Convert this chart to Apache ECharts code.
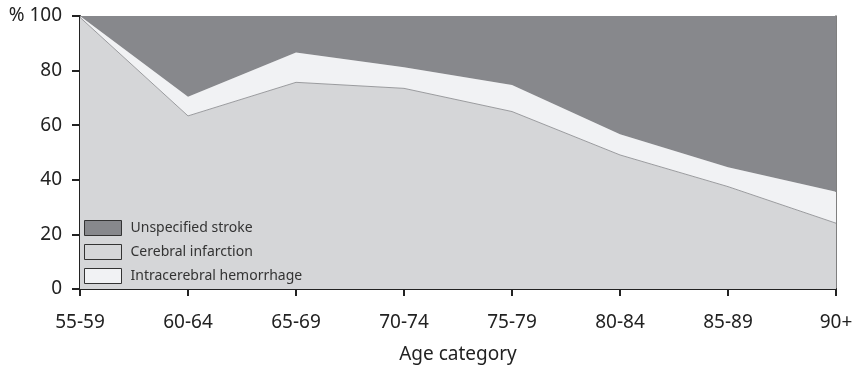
<!DOCTYPE html>
<html><head><meta charset="utf-8">
<script src="https://cdn.jsdelivr.net/npm/echarts@6/dist/echarts.min.js"></script>
<style>html,body{margin:0;padding:0;background:#fff}#c{width:854px;height:367px}</style>
</head><body><div id="c"></div>
<script>
const categories = ['55-59','60-64','65-69','70-74','75-79','80-84','85-89','90+'];
const cerebralInfarction = [99.5, 63.4, 75.7, 73.5, 65.0, 49.1, 37.5, 24.1];
const intracerebralHemorrhage = [0.5, 7.0, 10.9, 7.7, 9.7, 7.6, 7.1, 11.5];
const unspecifiedStroke = [0, 29.6, 13.4, 18.8, 25.3, 43.3, 55.4, 64.4];
const yTicks = [0, 20, 40, 60, 80, 100];

const FONT = '"Noto Sans","Open Sans",sans-serif';
const cDark = '#87888c', cMid = '#d5d6d8', cLight = '#f1f2f4';

const chart = echarts.init(document.getElementById('c'));
chart.setOption({
  animation: false,
  grid: {left: 80, right: 18, top: 16, bottom: 78, containLabel: false, outerBoundsMode: 'none'},
  legend: {
    orient: 'vertical', left: 84, top: 220, padding: 0,
    itemWidth: 37, itemHeight: 15, itemGap: 8,
    textStyle: {fontFamily: FONT, fontSize: 14, color: '#333', padding: [0, 0, 0, 4]},
    data: [
      {name: 'Unspecified stroke', icon: 'rect', itemStyle: {color: cDark, borderColor: '#333', borderWidth: 1}},
      {name: 'Cerebral infarction', icon: 'rect', itemStyle: {color: cMid, borderColor: '#333', borderWidth: 1}},
      {name: 'Intracerebral hemorrhage', icon: 'rect', itemStyle: {color: cLight, borderColor: '#333', borderWidth: 1}}
    ]
  },
  xAxis: {
    type: 'category', data: categories, boundaryGap: false,
    name: 'Age category', nameLocation: 'middle', nameGap: 56,
    nameTextStyle: {fontFamily: FONT, fontSize: 19, color: '#222'},
    axisLine: {lineStyle: {color: '#222', width: 2}},
    axisTick: {show: true, length: 7, lineStyle: {color: '#222', width: 2}, alignWithLabel: true},
    axisLabel: {fontFamily: FONT, fontSize: 19, color: '#222', margin: 24}
  },
  yAxis: [{
    type: 'value', min: 0, max: 100, interval: 20,
    axisLine: {show: true, lineStyle: {color: '#222', width: 2}},
    axisTick: {show: true, inside: false, length: 8, lineStyle: {color: '#222', width: 2}},
    splitLine: {show: false},
    axisLabel: {fontFamily: FONT, fontSize: 19, color: '#222', margin: 18,
      formatter: v => yTicks.indexOf(v) >= 0 ? (v === 100 ? '% 100' : String(v)) : ''}
  }, {
    type: 'value', min: 0, max: 100, interval: 20, position: 'right',
    axisLine: {show: true, lineStyle: {color: '#555', width: 1.5}},
    axisTick: {show: false}, axisLabel: {show: false}, splitLine: {show: false}
  }],
  series: [
    {name: 'Cerebral infarction', type: 'line', stack: 's', data: cerebralInfarction,
      symbol: 'none', lineStyle: {color: '#9a9b9e', width: 1}, itemStyle: {color: cMid},
      areaStyle: {color: cMid, opacity: 1}},
    {name: 'Intracerebral hemorrhage', type: 'line', stack: 's', data: intracerebralHemorrhage,
      symbol: 'none', lineStyle: {width: 0}, itemStyle: {color: cLight},
      areaStyle: {color: cLight, opacity: 1}},
    {name: 'Unspecified stroke', type: 'line', stack: 's', data: unspecifiedStroke,
      symbol: 'none', lineStyle: {width: 0}, itemStyle: {color: cDark},
      areaStyle: {color: cDark, opacity: 1}}
  ]
});
</script></body></html>
